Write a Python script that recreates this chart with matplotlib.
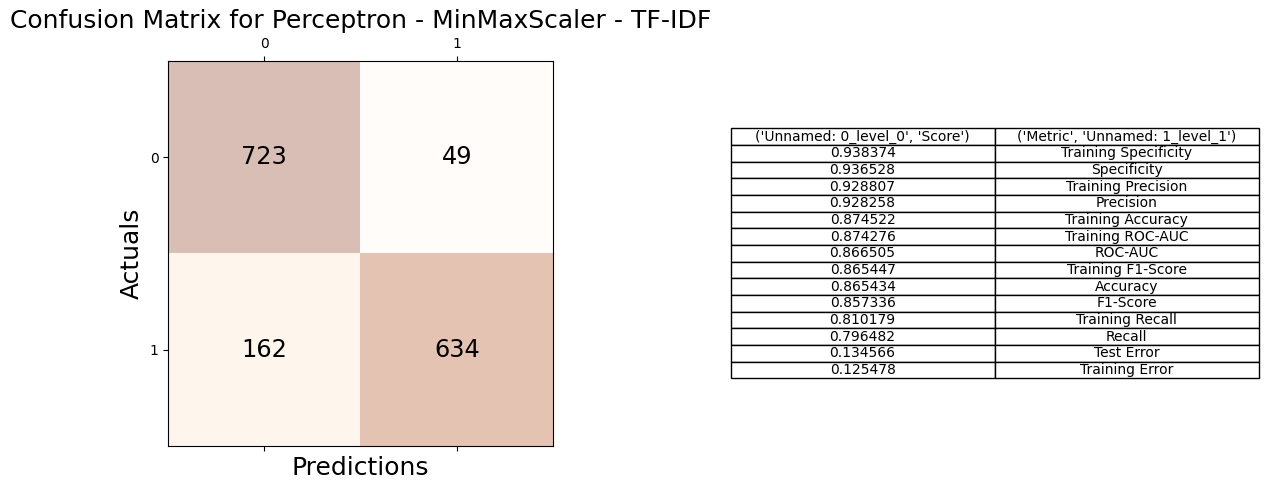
import numpy as np
import matplotlib
matplotlib.use('Agg')
from matplotlib import pyplot as plt

#confusion matrix values
conf_matrix = np.array([[723, 49], [162, 634]])
tick_labels = ['0', '1']

#table values
col_labels = ["('Unnamed: 0_level_0', 'Score')", "('Metric', 'Unnamed: 1_level_1')"]
scores = ['0.938374', '0.936528', '0.928807', '0.928258', '0.874522', '0.874276', '0.866505',
          '0.865447', '0.865434', '0.857336', '0.810179', '0.796482', '0.134566', '0.125478']
metrics = ['Training Specificity', 'Specificity', 'Training Precision', 'Precision',
           'Training Accuracy', 'Training ROC-AUC', 'ROC-AUC', 'Training F1-Score',
           'Accuracy', 'F1-Score', 'Training Recall', 'Recall', 'Test Error', 'Training Error']

W, H = 1268, 490
fig = plt.figure(figsize=(W/100, H/100), dpi=100)

ax = fig.add_axes([168.1/W, 1-446/H, 384.9/W, 385/H])
ax.matshow(conf_matrix, cmap=plt.cm.Oranges, alpha=0.3)
for i in range(conf_matrix.shape[0]):
    for j in range(conf_matrix.shape[1]):
        ax.text(j, i, str(conf_matrix[i, j]), va='center', ha='center', fontsize='xx-large')
ax.set_xticks([0, 1], tick_labels)
ax.set_yticks([0, 1], tick_labels)
ax.tick_params(bottom=True)
ax.set_xlabel('Predictions', fontsize=18)
ax.set_ylabel('Actuals', fontsize=18)
fig.text(361/W, 1-21.4/H, 'Confusion Matrix for Perceptron - MinMaxScaler - TF-IDF',
         fontsize=18, ha='center', va='center')

ax2 = fig.add_axes([730.6/W, 1-446.2/H, 528/W, 385/H])
ax2.axis('off')
rows = list(zip(scores, metrics))
table = ax2.table(cellText=rows, colLabels=col_labels, cellLoc='center',
                  bbox=[0, (446-378)/385, 1, (378-128)/385])
table.auto_set_font_size(False)
table.set_fontsize(9.96)

fig.savefig('out.png', dpi=100)
